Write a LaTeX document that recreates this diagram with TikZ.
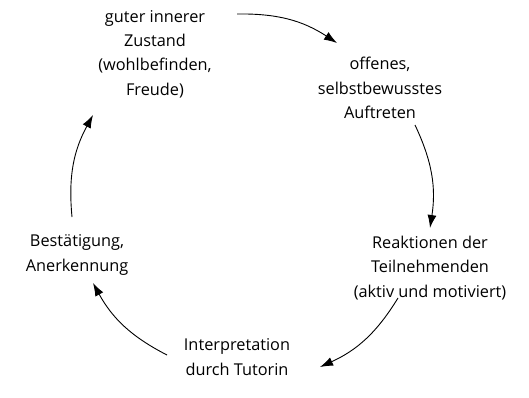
\documentclass[tikz,border=0pt]{standalone}
\usepackage{fontspec}
\setmainfont{Open Sans}
\usetikzlibrary{arrows.meta}
\begin{document}
\begin{tikzpicture}[x=1pt,y=1pt,
  lbl/.style={align=center,font=\fontsize{16.3}{24.3}\selectfont,inner sep=0pt},
  cyc/.style={-{Latex[length=13pt,width=9pt]},line width=0.9pt,bend left=17}]
\useasboundingbox (0,0) rectangle (529,397);
\node[lbl] (n1) at (155,343) {guter innerer\\Zustand\\(wohlbefinden,\\Freude)};
\node[lbl] (n2) at (380,309) {offenes,\\selbstbewusstes\\Auftreten};
\node[lbl] (n3) at (430,129) {Reaktionen der\\Teilnehmenden\\(aktiv und motiviert)};
\node[lbl] (n4) at (237,40) {Interpretation\\durch Tutorin};
\node[lbl] (n5) at (77,142) {Bestätigung,\\Anerkennung};
\coordinate (a1s) at (237,383); \coordinate (a1e) at (337,354);
\coordinate (a2s) at (415,272); \coordinate (a2e) at (430,169);
\coordinate (a3s) at (398,99);  \coordinate (a3e) at (320,30);
\coordinate (a4s) at (167,42);  \coordinate (a4e) at (93,114);
\coordinate (a5s) at (72,180);  \coordinate (a5e) at (93,282);
\draw[cyc] (a1s) to (a1e);
\draw[cyc] (a2s) to (a2e);
\draw[cyc] (a3s) to (a3e);
\draw[cyc] (a4s) to (a4e);
\draw[cyc] (a5s) to (a5e);
\end{tikzpicture}
\end{document}
